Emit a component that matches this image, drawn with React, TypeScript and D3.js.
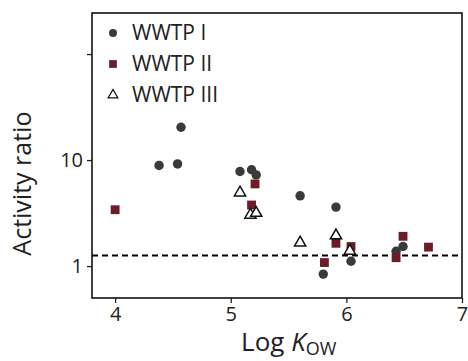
import * as d3 from "d3";
import { useEffect, useRef } from "react";

const wwtp1X = [4.38, 4.54, 4.57, 5.08, 5.18, 5.22, 5.6, 5.91, 5.8, 6.04, 6.43, 6.49];
const wwtp1Y = [8.9, 9.2, 20.4, 7.8, 8.1, 7.25, 4.6, 3.6, 0.84, 1.11, 1.38, 1.53];

const wwtp2X = [4.0, 5.21, 5.18, 5.91, 5.81, 6.04, 6.43, 6.49, 6.71];
const wwtp2Y = [3.4, 5.96, 3.77, 1.64, 1.08, 1.53, 1.2, 1.91, 1.51];

const wwtp3X = [5.08, 5.17, 5.22, 5.6, 5.91, 6.03];
const wwtp3Y = [4.93, 3.04, 3.16, 1.66, 1.94, 1.39];

const xTicks = [4, 5, 6, 7];
const yTicks = [1, 10, 100];
const yTickLabels = ["1", "10", ""];
const threshold = 1.26;

const FONT = "'Open Sans', sans-serif";

export default function App() {
  const ref = useRef<SVGSVGElement | null>(null);

  useEffect(() => {
    if (!ref.current) return;
    const svg = d3.select(ref.current);
    svg.selectAll("*").remove();

    const W = 468;
    const H = 361;
    const margin = { top: 13, right: 6, bottom: 63, left: 92 };
    const width = W - margin.left - margin.right;
    const height = H - margin.top - margin.bottom;

    svg.attr("width", W).attr("height", H);

    const g = svg
      .append("g")
      .attr("transform", `translate(${margin.left},${margin.top})`);

    const x = d3.scaleLinear().domain([3.8, 7.0]).range([0, width]);
    const y = d3.scaleLog().domain([0.5, 244]).range([height, 0]);

    // axes
    const xAxis = g
      .append("g")
      .attr("transform", `translate(0,${height})`)
      .call(d3.axisBottom(x).tickValues(xTicks).tickFormat(d3.format("d")).tickSize(5).tickPadding(4));
    const yAxis = g
      .append("g")
      .call(
        d3
          .axisLeft(y)
          .tickValues(yTicks)
          .tickFormat((_, i) => yTickLabels[i])
          .tickSize(5)
          .tickPadding(4)
      );
    [xAxis, yAxis].forEach((a) => {
      a.select(".domain").remove();
      a.selectAll("line").attr("stroke", "#222").attr("stroke-width", 1.3);
      a.selectAll("text")
        .attr("fill", "#222")
        .style("font-family", FONT)
        .style("font-size", "20px");
    });

    // frame
    g.append("rect")
      .attr("width", width)
      .attr("height", height)
      .attr("fill", "none")
      .attr("stroke", "#111")
      .attr("stroke-width", 1.6);

    // threshold line
    g.append("line")
      .attr("x1", 0)
      .attr("x2", width)
      .attr("y1", y(threshold))
      .attr("y2", y(threshold))
      .attr("stroke", "#000")
      .attr("stroke-width", 2)
      .attr("stroke-dasharray", "6,4");

    const circle = d3.symbol().type(d3.symbolCircle).size(70);
    const square = d3.symbol().type(d3.symbolSquare).size(78);
    const tri = d3.symbol().type(d3.symbolTriangle).size(55);

    g.selectAll("path.s1")
      .data(wwtp1X.map((v, i) => [v, wwtp1Y[i]]))
      .enter()
      .append("path")
      .attr("class", "s1")
      .attr("d", circle()!)
      .attr("transform", (d) => `translate(${x(d[0])},${y(d[1])})`)
      .attr("fill", "#3a3a3a");

    g.selectAll("path.s2")
      .data(wwtp2X.map((v, i) => [v, wwtp2Y[i]]))
      .enter()
      .append("path")
      .attr("class", "s2")
      .attr("d", square()!)
      .attr("transform", (d) => `translate(${x(d[0])},${y(d[1])})`)
      .attr("fill", "#6b1c28");

    g.selectAll("path.s3")
      .data(wwtp3X.map((v, i) => [v, wwtp3Y[i]]))
      .enter()
      .append("path")
      .attr("class", "s3")
      .attr("d", tri()!)
      .attr("transform", (d) => `translate(${x(d[0])},${y(d[1])})`)
      .attr("fill", "#fff")
      .attr("stroke", "#111")
      .attr("stroke-width", 1.5);

    // legend
    const legend = [
      { label: "WWTP I", sym: d3.symbol().type(d3.symbolCircle).size(50), fill: "#3a3a3a", stroke: "none" },
      { label: "WWTP II", sym: d3.symbol().type(d3.symbolSquare).size(60), fill: "#6b1c28", stroke: "none" },
      { label: "WWTP III", sym: d3.symbol().type(d3.symbolTriangle).size(40), fill: "#fff", stroke: "#111" },
    ];
    const lg = svg.append("g").attr("transform", "translate(113,33)");
    legend.forEach((l, i) => {
      const row = lg.append("g").attr("transform", `translate(0,${i * 31})`);
      row.append("path")
        .attr("d", l.sym()!)
        .attr("fill", l.fill)
        .attr("stroke", l.stroke)
        .attr("stroke-width", 1.3);
      row.append("text")
        .attr("x", 19)
        .attr("dy", "0.35em")
        .attr("fill", "#222")
        .style("font-family", FONT)
        .style("font-size", "21px")
        .text(l.label);
    });

    // axis titles
    const xt = svg
      .append("text")
      .attr("x", margin.left + x(5.0) + 58)
      .attr("y", 351)
      .attr("text-anchor", "middle")
      .attr("fill", "#222")
      .style("font-family", FONT)
      .style("font-size", "26px");
    xt.append("tspan").text("Log ");
    xt.append("tspan").attr("font-style", "italic").text("K");
    xt.append("tspan").attr("dy", 4).style("font-size", "18px").text("OW");

    svg.append("text")
      .attr("transform", `translate(31,${margin.top + y(6)}) rotate(-90)`)
      .attr("text-anchor", "middle")
      .attr("fill", "#222")
      .style("font-family", FONT)
      .style("font-size", "25px")
      .text("Activity ratio");
  }, []);

  return (
    <svg
      ref={ref}
      style={{ position: "absolute", left: 0, top: 0, display: "block" }}
    ></svg>
  );
}
